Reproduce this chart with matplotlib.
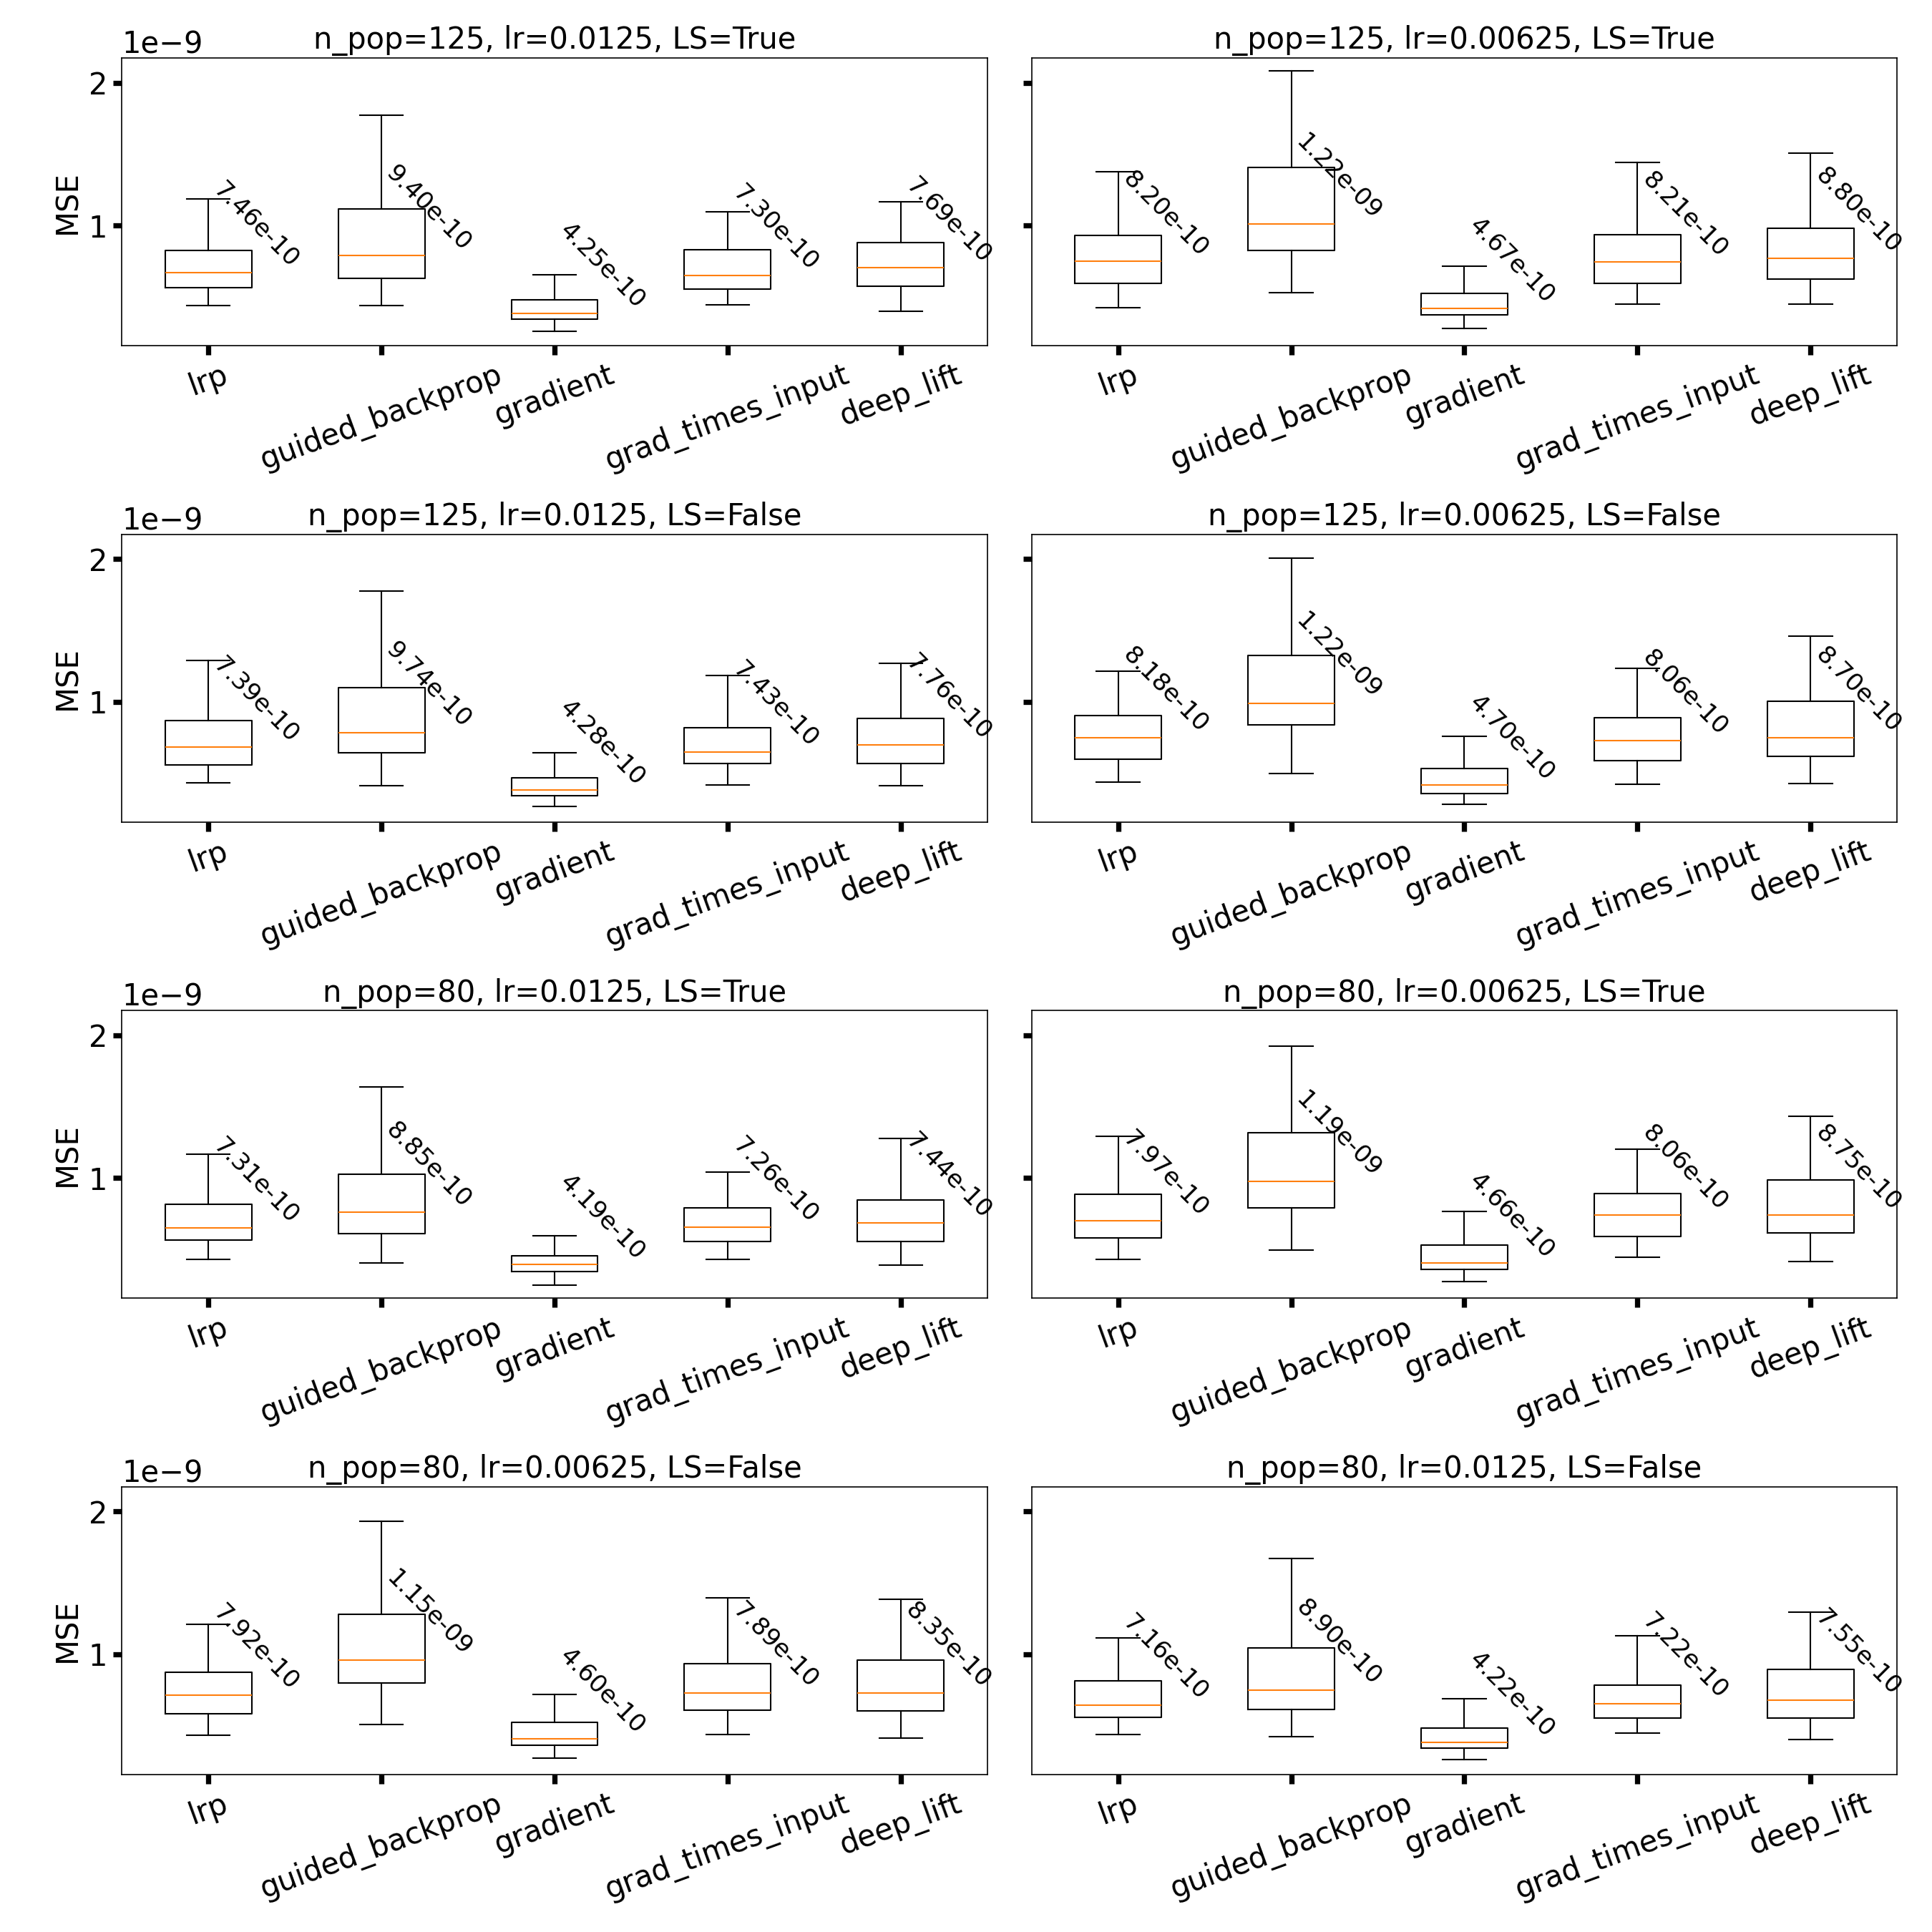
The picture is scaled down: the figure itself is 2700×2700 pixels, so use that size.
import matplotlib
matplotlib.use("Agg")
import matplotlib.pyplot as plt

methods = ["lrp", "guided_backprop", "gradient", "grad_times_input", "deep_lift"]

titles = [
    "n_pop=125, lr=0.0125, LS=True",
    "n_pop=125, lr=0.00625, LS=True",
    "n_pop=125, lr=0.0125, LS=False",
    "n_pop=125, lr=0.00625, LS=False",
    "n_pop=80, lr=0.0125, LS=True",
    "n_pop=80, lr=0.00625, LS=True",
    "n_pop=80, lr=0.00625, LS=False",
    "n_pop=80, lr=0.0125, LS=False",
]

# values in units of 1e-9
whishi = [
    [1.187, 1.775, 0.655, 1.097, 1.168],
    [1.377, 2.082, 0.717, 1.440, 1.505],
    [1.291, 1.776, 0.645, 1.186, 1.271],
    [1.216, 2.007, 0.760, 1.236, 1.462],
    [1.165, 1.640, 0.595, 1.040, 1.277],
    [1.292, 1.925, 0.767, 1.200, 1.435],
    [1.208, 1.930, 0.720, 1.395, 1.385],
    [1.113, 1.670, 0.690, 1.132, 1.295],
]
q3 = [
    [0.825, 1.115, 0.480, 0.830, 0.880],
    [0.930, 1.408, 0.525, 0.935, 0.980],
    [0.868, 1.099, 0.467, 0.817, 0.884],
    [0.905, 1.327, 0.533, 0.889, 1.005],
    [0.815, 1.028, 0.455, 0.793, 0.848],
    [0.885, 1.320, 0.530, 0.890, 0.985],
    [0.875, 1.280, 0.525, 0.935, 0.960],
    [0.815, 1.045, 0.485, 0.785, 0.895],
]
medians = [
    [0.672, 0.790, 0.387, 0.650, 0.705],
    [0.750, 1.010, 0.420, 0.745, 0.772],
    [0.683, 0.786, 0.382, 0.648, 0.698],
    [0.749, 0.990, 0.417, 0.729, 0.749],
    [0.650, 0.760, 0.395, 0.655, 0.685],
    [0.700, 0.975, 0.405, 0.740, 0.740],
    [0.715, 0.960, 0.410, 0.730, 0.730],
    [0.645, 0.750, 0.385, 0.655, 0.680],
]
q1 = [
    [0.565, 0.632, 0.347, 0.555, 0.577],
    [0.595, 0.825, 0.373, 0.595, 0.627],
    [0.558, 0.645, 0.342, 0.568, 0.568],
    [0.600, 0.839, 0.358, 0.588, 0.618],
    [0.565, 0.610, 0.345, 0.555, 0.555],
    [0.580, 0.790, 0.360, 0.590, 0.615],
    [0.585, 0.800, 0.365, 0.610, 0.605],
    [0.560, 0.615, 0.345, 0.555, 0.555],
]
whislo = [
    [0.442, 0.442, 0.257, 0.447, 0.402],
    [0.425, 0.532, 0.280, 0.450, 0.450],
    [0.432, 0.412, 0.266, 0.417, 0.414],
    [0.437, 0.497, 0.283, 0.422, 0.427],
    [0.430, 0.405, 0.250, 0.430, 0.392],
    [0.430, 0.495, 0.275, 0.445, 0.415],
    [0.435, 0.510, 0.275, 0.440, 0.415],
    [0.440, 0.425, 0.265, 0.450, 0.405],
]
means = [
    [7.46e-10, 9.40e-10, 4.25e-10, 7.30e-10, 7.69e-10],
    [8.20e-10, 1.22e-09, 4.67e-10, 8.21e-10, 8.80e-10],
    [7.39e-10, 9.74e-10, 4.28e-10, 7.43e-10, 7.76e-10],
    [8.18e-10, 1.22e-09, 4.70e-10, 8.06e-10, 8.70e-10],
    [7.31e-10, 8.85e-10, 4.19e-10, 7.26e-10, 7.44e-10],
    [7.97e-10, 1.19e-09, 4.66e-10, 8.06e-10, 8.75e-10],
    [7.92e-10, 1.15e-09, 4.60e-10, 7.89e-10, 8.35e-10],
    [7.16e-10, 8.90e-10, 4.22e-10, 7.22e-10, 7.55e-10],
]
scale = 1e-9

plt.rcParams["font.family"] = ["DejaVu Sans"]
plt.rcParams["font.size"] = 20

fig, axes = plt.subplots(4, 2, figsize=(18, 18), dpi=150, sharey=True)
fig.subplots_adjust(left=0.063, right=0.982, top=0.970, bottom=0.0815,
                    wspace=0.051, hspace=0.655)

for k, ax in enumerate(axes.flat):
    stats = []
    for j, m in enumerate(methods):
        stats.append({
            "med": medians[k][j] * scale,
            "q1": q1[k][j] * scale,
            "q3": q3[k][j] * scale,
            "whislo": whislo[k][j] * scale,
            "whishi": whishi[k][j] * scale,
            "fliers": [],
            "label": m,
        })
    ax.bxp(stats, showfliers=False)
    for j in range(len(methods)):
        ax.text(j + 1, medians[k][j] * scale, f"{means[k][j]:.2e}",
                rotation=-45, ha="left", va="bottom", fontsize=16.5)
    ax.set_title(titles[k], fontsize=20)
    ax.set_yticks([1e-9, 2e-9])
    ax.tick_params(axis="both", length=6, width=3.5, labelsize=20)
    ax.tick_params(axis="x", labelrotation=20)
    if k % 2 == 0:
        ax.set_ylabel("MSE", fontsize=20)
    ax.yaxis.get_offset_text().set_fontsize(20)

fig.savefig("out.png", dpi=150)
